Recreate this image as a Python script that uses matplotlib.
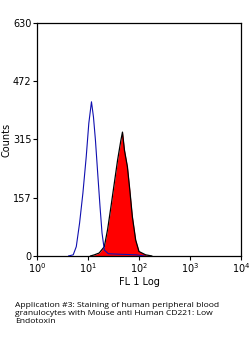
import numpy as np
import matplotlib
matplotlib.use('Agg')
import matplotlib.pyplot as plt

# control (isotype) histogram, blue outline: log10(FL1), counts
blue_log = [0.62, 0.71, 0.77, 0.835, 0.90, 0.965, 1.016, 1.068, 1.107, 1.146, 1.19, 1.236, 1.275, 1.32, 1.40, 1.55, 1.75, 1.95, 2.1]
blue_cnt = [0, 3, 25, 89, 170, 268, 359, 417, 376, 313, 224, 133, 62, 16, 6, 5, 4, 3, 0]

# stained sample histogram, red fill
red_log = [1.05, 1.126, 1.22, 1.32, 1.385, 1.45, 1.515, 1.58, 1.645, 1.676, 1.715, 1.773, 1.82, 1.87, 1.935, 2.0, 2.13, 2.25]
red_cnt = [0, 3, 8, 25, 72, 133, 196, 259, 313, 335, 286, 241, 178, 106, 43, 12, 3, 0]

y_ticks = [0, 157, 315, 472, 630]
x_ticks = [1, 10, 100, 1000, 10000]
x_labels = ['10$^0$', '10$^1$', '10$^2$', '10$^3$', '10$^4$']

caption = ('Application #3: Staining of human peripheral blood\n'
           'granulocytes with Mouse anti Human CD221: Low\n'
           'Endotoxin')

fig = plt.figure(figsize=(2.5, 3.39), dpi=100)
ax = fig.add_axes([0.148, 0.245, 0.816, 0.687])

rx = 10 ** np.array(red_log)
ax.fill_between(rx, red_cnt, color='#ff0000', linewidth=0, zorder=2)
ax.plot(rx, red_cnt, color='black', linewidth=0.9, zorder=3)
ax.plot(10 ** np.array(blue_log), blue_cnt, color='#1010b0', linewidth=0.8, zorder=4)

ax.set_xscale('log')
ax.set_xlim(1, 10000)
ax.set_ylim(0, 630)
ax.set_xticks(x_ticks)
ax.set_xticklabels(x_labels)
ax.minorticks_off()
ax.set_yticks(y_ticks)
ax.tick_params(direction='out', length=3, width=0.8, labelsize=7, pad=1)
for s in ax.spines.values():
    s.set_linewidth(0.9)

ax.set_xlabel('FL 1 Log', fontsize=7, labelpad=1)
ax.set_ylabel('Counts', fontsize=7, labelpad=1)

fig.text(0.06, 0.108, caption, fontsize=6.1, family='Open Sans',
         ha='left', va='top', linespacing=1.15)

plt.savefig('out.png', dpi=100)
